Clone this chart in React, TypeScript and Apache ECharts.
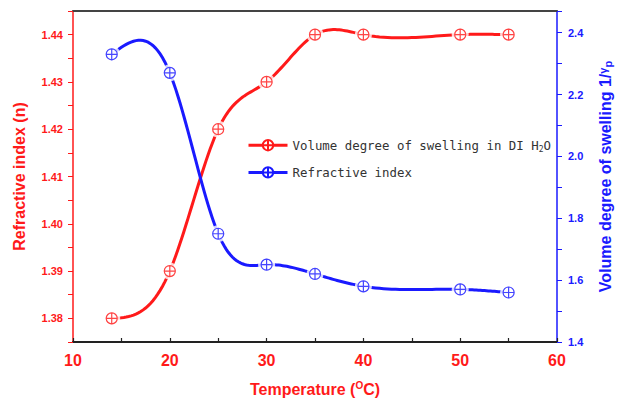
import React, { useEffect, useRef } from "react";
import * as echarts from "echarts";

// Temperatures (°C) at which both quantities were measured
const temperatures = [14, 20, 25, 30, 35, 40, 50, 55];
// Red series, plotted on the left axis
const swellingInWater = [1.38, 1.39, 1.42, 1.43, 1.44, 1.44, 1.44, 1.44];
// Blue series, plotted on the right axis
const refractiveIndex = [2.33, 2.27, 1.75, 1.65, 1.62, 1.58, 1.57, 1.56];

const RED = "#ff1a1a";
const BLUE = "#1a1aff";
const FONT = "'Liberation Sans', Arial, sans-serif";
const LEGEND_FONT = "'DejaVu Sans Mono', monospace";

// circle with a cross through it
const CROSS_CIRCLE =
  "path://M0,-10A10,10,0,1,1,0,10A10,10,0,1,1,0,-10ZM0,-10L0,10M-10,0L10,0";

const pairs = (ys: number[]) => temperatures.map((t, i) => [t, ys[i]]);

// Second derivatives of a natural cubic spline through (xs, ys)
function splineSecondDerivatives(xs: number[], ys: number[]): number[] {
  const n = xs.length;
  const m = new Array(n).fill(0);
  const u = new Array(n).fill(0);
  for (let i = 1; i < n - 1; i++) {
    const sig = (xs[i] - xs[i - 1]) / (xs[i + 1] - xs[i - 1]);
    const p = sig * m[i - 1] + 2;
    m[i] = (sig - 1) / p;
    const d =
      (ys[i + 1] - ys[i]) / (xs[i + 1] - xs[i]) - (ys[i] - ys[i - 1]) / (xs[i] - xs[i - 1]);
    u[i] = ((6 * d) / (xs[i + 1] - xs[i - 1]) - sig * u[i - 1]) / p;
  }
  m[n - 1] = 0;
  for (let k = n - 2; k >= 0; k--) m[k] = m[k] * m[k + 1] + u[k];
  return m;
}

// Custom series drawing each segment between measured points as a spline piece
function splineSeries(color: string, ys: number[], yAxisIndex: number) {
  const m = splineSecondDerivatives(temperatures, ys);
  return {
    type: "custom",
    coordinateSystem: "cartesian2d",
    yAxisIndex,
    data: pairs(ys),
    z: 2,
    silent: true,
    renderItem: (params: any, api: any) => {
      const i = params.dataIndex;
      if (i >= temperatures.length - 1) return { type: "group", children: [] };
      const x0 = temperatures[i];
      const x1 = temperatures[i + 1];
      const h = x1 - x0;
      const steps = 24;
      const points: number[][] = [];
      for (let s = 0; s <= steps; s++) {
        const x = x0 + (h * s) / steps;
        const a = (x1 - x) / h;
        const b = (x - x0) / h;
        const y =
          a * ys[i] +
          b * ys[i + 1] +
          (((a * a * a - a) * m[i] + (b * b * b - b) * m[i + 1]) * h * h) / 6;
        points.push(api.coord([x, y]));
      }
      return {
        type: "polyline",
        shape: { points },
        style: { stroke: color, lineWidth: 3, fill: "none" },
      };
    },
  };
}

export default function App() {
  const ref = useRef<HTMLDivElement>(null);

  useEffect(() => {
    if (!ref.current) return;
    const chart = echarts.init(ref.current, undefined, { renderer: "svg" });

    // Line series carry the legend entries; their own line is hidden
    const legendSeries = (name: string, color: string, ys: number[], yAxisIndex: number) => ({
      name,
      type: "line",
      yAxisIndex,
      data: pairs(ys),
      symbol: CROSS_CIRCLE,
      symbolSize: 11,
      z: 1,
      lineStyle: { color, width: 3, opacity: 0 },
      itemStyle: { color: "#ffffff", borderColor: color, borderWidth: 1.2 },
    });
    const haloSeries = (ys: number[], yAxisIndex: number) => ({
      type: "scatter",
      yAxisIndex,
      data: pairs(ys),
      symbol: "circle",
      symbolSize: 17,
      z: 3,
      silent: true,
      itemStyle: { color: "#ffffff" },
    });
    const markerSeries = (color: string, ys: number[], yAxisIndex: number) => ({
      type: "scatter",
      yAxisIndex,
      data: pairs(ys),
      symbol: CROSS_CIRCLE,
      symbolSize: 11,
      z: 4,
      silent: true,
      itemStyle: { color: "#ffffff", borderColor: color, borderWidth: 1.2 },
    });

    const redName = "Volume degree of swelling in DI H2O";
    const blueName = "Refractive index";

    chart.setOption({
      animation: false,
      backgroundColor: "#ffffff",
      grid: { left: 73, right: 65, top: 11, bottom: 60 },
      legend: {
        data: [
          { name: redName, lineStyle: { color: RED, width: 3, opacity: 1 } },
          { name: blueName, lineStyle: { color: BLUE, width: 3, opacity: 1 } },
        ],
        orient: "vertical",
        left: 242,
        top: 134,
        itemWidth: 39,
        itemHeight: 13,
        itemGap: 13,
        formatter: (n: string) =>
          n === redName ? "Volume degree of swelling in DI H{sub|2}O" : n,
        textStyle: {
          fontFamily: LEGEND_FONT,
          fontSize: 12.4,
          color: "#333333",
          rich: {
            sub: {
              fontFamily: LEGEND_FONT,
              fontSize: 8,
              color: "#333333",
              verticalAlign: "bottom",
              padding: [8, 0, 0, 0],
            },
          },
        },
      },
      xAxis: [
        {
          type: "value",
          min: 10,
          max: 60,
          interval: 5,
          name: "Temperature ({sup|O}C)",
          nameLocation: "middle",
          nameGap: 38,
          nameTextStyle: {
            fontFamily: FONT,
            fontWeight: "bold",
            fontSize: 16,
            color: RED,
            rich: {
              sup: {
                fontFamily: FONT,
                fontWeight: "bold",
                fontSize: 10,
                color: RED,
                verticalAlign: "top",
                padding: [0, 0, 8, 0],
              },
            },
          },
          axisLine: { lineStyle: { color: "#222222", width: 2 } },
          axisTick: { inside: true, length: 4, lineStyle: { color: "#222222", width: 1.2 } },
          splitLine: { show: false },
          axisLabel: {
            margin: 10,
            fontFamily: FONT,
            fontWeight: "bold",
            fontSize: 16,
            color: RED,
            formatter: (v: number) => (Math.round(v) % 10 === 0 ? String(Math.round(v)) : ""),
          },
        },
        {
          type: "value",
          position: "top",
          min: 10,
          max: 60,
          axisLine: { lineStyle: { color: "#444444", width: 2 } },
          axisTick: { show: false },
          axisLabel: { show: false },
          splitLine: { show: false },
        },
      ],
      yAxis: [
        {
          type: "value",
          position: "left",
          min: 1.375,
          max: 1.445,
          interval: 0.005,
          name: "Refractive index (n)",
          nameLocation: "middle",
          nameRotate: 90,
          nameGap: 46,
          nameTextStyle: { fontFamily: FONT, fontWeight: "bold", fontSize: 16, color: RED },
          axisLine: { show: true, lineStyle: { color: RED, width: 1.5 } },
          axisTick: { show: true, length: 5, lineStyle: { color: RED, width: 1 } },
          splitLine: { show: false },
          axisLabel: {
            margin: 10,
            fontFamily: FONT,
            fontWeight: "bold",
            fontSize: 11,
            color: RED,
            formatter: (v: number) => {
              const k = Math.round(v * 1000);
              return k % 10 === 0 ? (k / 1000).toFixed(2) : "";
            },
          },
        },
        {
          type: "value",
          position: "right",
          min: 1.4,
          max: 2.47,
          interval: 0.1,
          name: "Volume degree of swelling 1/{g|γ}{p|p}",
          nameLocation: "middle",
          nameRotate: 90,
          nameGap: 40,
          nameTextStyle: {
            fontFamily: FONT,
            fontWeight: "bold",
            fontSize: 16,
            color: BLUE,
            rich: {
              g: {
                fontFamily: FONT,
                fontWeight: "bold",
                fontSize: 11,
                color: BLUE,
                verticalAlign: "top",
                padding: [0, 0, 5, 0],
              },
              p: {
                fontFamily: FONT,
                fontWeight: "bold",
                fontSize: 11,
                color: BLUE,
                verticalAlign: "bottom",
                padding: [5, 0, 0, 0],
              },
            },
          },
          axisLine: { show: true, lineStyle: { color: BLUE, width: 1.5 } },
          axisTick: { show: true, length: 5, lineStyle: { color: BLUE, width: 1 } },
          splitLine: { show: false },
          axisLabel: {
            margin: 11,
            fontFamily: FONT,
            fontWeight: "bold",
            fontSize: 11,
            color: BLUE,
            formatter: (v: number) => {
              const k = Math.round(v * 10);
              return Math.abs(v * 10 - k) < 1e-6 && k % 2 === 0 ? (k / 10).toFixed(1) : "";
            },
          },
        },
      ],
      series: [
        legendSeries(redName, RED, swellingInWater, 0),
        legendSeries(blueName, BLUE, refractiveIndex, 1),
        splineSeries(RED, swellingInWater, 0),
        splineSeries(BLUE, refractiveIndex, 1),
        haloSeries(swellingInWater, 0),
        haloSeries(refractiveIndex, 1),
        markerSeries(RED, swellingInWater, 0),
        markerSeries(BLUE, refractiveIndex, 1),
      ],
    });

    return () => chart.dispose();
  }, []);

  return <div ref={ref} style={{ width: 622, height: 402, position: "absolute", left: 0, top: 0 }} />;
}
